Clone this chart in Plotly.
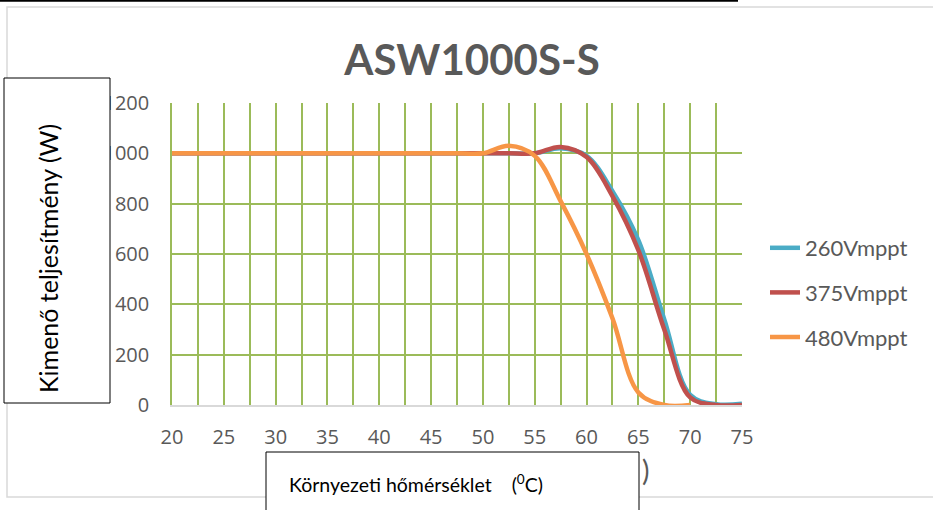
import plotly.graph_objects as go

# ---- data ----
temps = [20, 22.5, 25, 27.5, 30, 32.5, 35, 37.5, 40, 42.5, 45, 47.5,
         50, 52.5, 55, 57.5, 60, 62.5, 65, 67.5, 70, 72.5, 75]
p_260 = [1000, 1000, 1000, 1000, 1000, 1000, 1000, 1000, 1000, 1000, 1000, 1000,
         1000, 1000, 1000, 1020, 990, 850, 655, 340, 40, 3, 5]
p_375 = [1000, 1000, 1000, 1000, 1000, 1000, 1000, 1000, 1000, 1000, 1000, 1000,
         1000, 1000, 1000, 1025, 985, 830, 615, 300, 30, 0, 0]
p_480 = [1000, 1000, 1000, 1000, 1000, 1000, 1000, 1000, 1000, 1000, 1000, 1000,
         1000, 1030, 990, 810, 600, 345, 50, 0, 0, None, None]
series_names = ["260Vmppt", "375Vmppt", "480Vmppt"]
series_colors = ["#4BACC6", "#C0504D", "#F79646"]
x_ticks = [20, 25, 30, 35, 40, 45, 50, 55, 60, 65, 70, 75]
y_ticks = [0, 200, 400, 600, 800, 1000, 1200]

title_text = "ASW1000S-S"
y_title_text = "Kimenő teljesítmény (W)"
x_title_text = "Környezeti hőmérséklet\u00a0\u00a0\u00a0\u00a0(<sup>0</sup>C)"

W, H = 933, 510
L, R, T, B = 172, 742, 103, 405  # plot area in px
FONT = "Lato"
TICKFONT = "Open Sans"
GRID = "#9BBB59"
GRAY = "#595959"


def px(x):
    return (x - L) / (R - L)


def py(y):
    return (B - y) / (B - T)


fig = go.Figure()
for name, col, vals in zip(series_names, series_colors, [p_260, p_375, p_480]):
    fig.add_trace(go.Scatter(
        x=temps, y=vals, name=name, mode="lines",
        line=dict(color=col, width=4.5, shape="spline", smoothing=1.0),
        cliponaxis=False, legendgroup=name,
    ))

shapes = [
    # chart area border
    dict(type="rect", xref="paper", yref="paper", x0=px(7), x1=px(960), y0=py(7), y1=py(497),
         line=dict(color="#D9D9D9", width=1.5), fillcolor="rgba(0,0,0,0)", layer="below"),
    # top black line
    dict(type="line", xref="paper", yref="paper", x0=px(0), x1=px(738), y0=py(0.8), y1=py(0.8),
         line=dict(color="black", width=2), layer="above"),
    # y title box
    dict(type="rect", xref="paper", yref="paper", x0=px(4), x1=px(110), y0=py(78), y1=py(403),
         line=dict(color="black", width=1), fillcolor="white", layer="above"),
    # x title box
    dict(type="rect", xref="paper", yref="paper", x0=px(266), x1=px(639), y0=py(452), y1=py(540),
         line=dict(color="black", width=1), fillcolor="white", layer="above"),
]

annotations = [
    dict(text=y_title_text, xref="paper", yref="paper", x=px(48), y=py(259), textangle=-90,
         showarrow=False, xanchor="center", yanchor="middle",
         font=dict(family=FONT, size=25, color="black")),
    dict(text=x_title_text, xref="paper", yref="paper", x=px(287), y=py(483),
         showarrow=False, xanchor="left", yanchor="middle",
         font=dict(family=FONT, size=19.5, color="black")),
    dict(text=")", xref="paper", yref="paper", x=px(640), y=py(470),
         showarrow=False, xanchor="left", yanchor="middle",
         font=dict(family=FONT, size=28, color=GRAY)),
]

fig.update_layout(
    width=W, height=H,
    margin=dict(l=L, r=W - R, t=T, b=H - B, pad=0),
    paper_bgcolor="white", plot_bgcolor="white",
    title=dict(text="<b>" + title_text + "</b>", xref="paper", x=px(472), xanchor="center",
               yref="container", y=1 - 60 / H, yanchor="middle",
               font=dict(family=FONT, size=42, color=GRAY)),
    font=dict(family=FONT, color=GRAY),
    xaxis=dict(range=[20, 75], tickvals=x_ticks, ticktext=[str(v) for v in x_ticks],
               showgrid=True, gridcolor=GRID, gridwidth=1.5,
               minor=dict(dtick=2.5, tick0=20, showgrid=True, gridcolor=GRID, gridwidth=1.5),
               showline=True, linecolor="#D9D9D9", linewidth=2,
               zeroline=False, ticks="", ticklen=0, ticklabelstandoff=13,
               tickfont=dict(family=TICKFONT, size=20, color=GRAY)),
    yaxis=dict(range=[0, 1200], tickvals=y_ticks, ticktext=[str(v) for v in y_ticks],
               showgrid=True, gridcolor=GRID, gridwidth=1.5,
               showline=True, linecolor=GRID, linewidth=1.5,
               zeroline=False, ticks="", ticklen=0, ticklabelstandoff=17,
               tickfont=dict(family=TICKFONT, size=20, color=GRAY)),
    showlegend=True,
    legend=dict(x=px(765), xanchor="left", y=py(227), yanchor="top",
                font=dict(family=FONT, size=22, color=GRAY),
                traceorder="grouped", tracegroupgap=13,
                bgcolor="rgba(0,0,0,0)"),
    shapes=shapes, annotations=annotations,
)

fig.write_html("out.html", config={"displayModeBar": False},
               post_script="document.body.style.margin='0';document.body.style.padding='0';")
